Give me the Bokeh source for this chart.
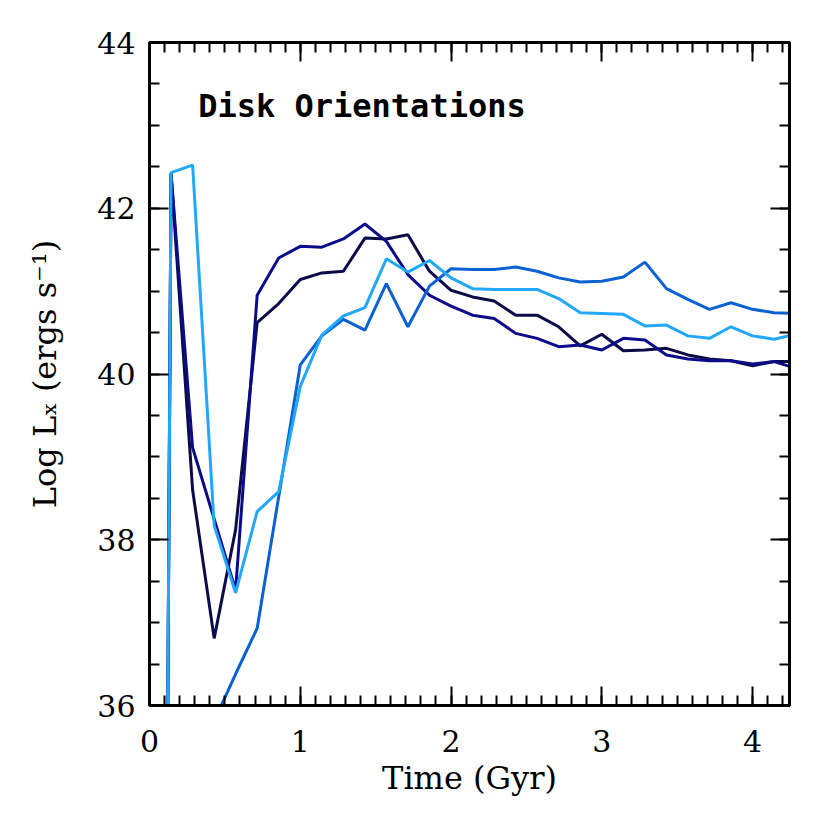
from bokeh.plotting import figure
from bokeh.models import Range1d, LinearAxis, SingleIntervalTicker, Label, CustomLabelingPolicy
from bokeh.embed import file_html
from bokeh.resources import INLINE

# Time in Gyr
time_gyr = [0.000, 0.143, 0.286, 0.429, 0.571, 0.714, 0.857, 1.000, 1.143, 1.286,
            1.429, 1.571, 1.714, 1.857, 2.000, 2.143, 2.286, 2.429, 2.571, 2.714,
            2.857, 3.000, 3.143, 3.286, 3.429, 3.571, 3.714, 3.857, 4.000, 4.143,
            4.286]

# Log L_X for each disk orientation
lx_darkest = [0.0, 42.42, 38.60, 36.81, 38.12, 40.62, 40.85, 41.14, 41.22, 41.24,
              41.64, 41.63, 41.68, 41.24, 41.01, 40.93, 40.88, 40.71, 40.71, 40.57,
              40.34, 40.48, 40.28, 40.29, 40.31, 40.23, 40.18, 40.16, 40.10, 40.15,
              40.15]
lx_navy = [0.0, 42.42, 39.11, 38.25, 37.39, 40.95, 41.40, 41.54, 41.53, 41.63,
           41.81, 41.60, 41.20, 40.95, 40.82, 40.71, 40.67, 40.49, 40.43, 40.33,
           40.35, 40.29, 40.43, 40.41, 40.23, 40.18, 40.16, 40.16, 40.12, 40.15,
           40.07]
lx_medium = [0.0, 0.0, 0.0, 35.81, 36.38, 36.93, 38.52, 40.11, 40.46, 40.66,
             40.53, 41.09, 40.57, 41.06, 41.27, 41.26, 41.26, 41.29, 41.24, 41.16,
             41.11, 41.12, 41.17, 41.35, 41.03, 40.90, 40.78, 40.86, 40.78, 40.74,
             40.73]
lx_light = [0.0, 42.43, 42.52, 38.17, 37.36, 38.34, 38.58, 39.85, 40.47, 40.70,
            40.80, 41.39, 41.23, 41.37, 41.16, 41.03, 41.02, 41.02, 41.02, 40.91,
            40.74, 40.73, 40.72, 40.58, 40.59, 40.46, 40.43, 40.57, 40.46, 40.42,
            40.48]

series = [lx_darkest, lx_navy, lx_medium, lx_light]
colors = ["#0b0b48", "#0c0c8a", "#0a62d2", "#22a8fa"]

title_text = "Disk Orientations"
x_label = "Time (Gyr)"
y_label = "Log L\u2093 (ergs s\u207b\u00b9)"

p = figure(frame_width=640, frame_height=663, output_backend="svg", toolbar_location=None,
           x_range=Range1d(0, 4.245), y_range=Range1d(36, 44),
           min_border_left=149, min_border_right=20, min_border_top=42,
           min_border_bottom=110, x_axis_label=x_label, y_axis_label=y_label)

p.xgrid.grid_line_color = None
p.ygrid.grid_line_color = None
p.outline_line_color = "black"
p.outline_line_width = 3
p.background_fill_color = "white"
p.border_fill_color = "white"

for ys, c in zip(series, colors):
    p.line(time_gyr, ys, line_color=c, line_width=3)

xt = SingleIntervalTicker(interval=1, num_minor_ticks=10)
yt = SingleIntervalTicker(interval=2, num_minor_ticks=4)

def style(ax):
    ax.axis_line_width = 3
    ax.axis_line_color = "black"
    ax.major_tick_in = 19
    ax.major_tick_out = 0
    ax.minor_tick_in = 10
    ax.minor_tick_out = 0
    ax.major_tick_line_width = 2
    ax.minor_tick_line_width = 2
    ax.major_tick_line_color = "black"
    ax.minor_tick_line_color = "black"
    ax.major_label_text_font = "DejaVu Serif"
    ax.major_label_text_font_size = "30px"
    ax.major_label_text_color = "black"
    ax.axis_label_text_font = "DejaVu Serif"
    ax.axis_label_text_font_size = "32px"
    ax.axis_label_text_font_style = "normal"
    ax.axis_label_text_color = "black"

p.xaxis.ticker = xt
p.yaxis.ticker = yt
for ax in p.xaxis + p.yaxis:
    style(ax)
p.xaxis.major_label_standoff = 24
p.xaxis.axis_label_standoff = 4
p.yaxis.major_label_standoff = 14
p.yaxis.axis_label_standoff = 30

NO_LABELS_JS = """
const all = [...indices]
for (const i of all) indices.unset(i)
return indices
"""

top = LinearAxis(ticker=xt)
style(top)
top.major_label_policy = CustomLabelingPolicy(code=NO_LABELS_JS)
top.major_label_text_font_size = "0px"
top.major_label_standoff = 0
p.add_layout(top, "above")
right = LinearAxis(ticker=yt)
style(right)
right.major_label_policy = CustomLabelingPolicy(code=NO_LABELS_JS)
right.major_label_text_font_size = "0px"
right.major_label_standoff = 0
p.add_layout(right, "right")

p.add_layout(Label(x=0.323, y=43.23, text=title_text, text_font="DejaVu Sans Mono",
                   text_font_size="32px", text_font_style="bold", text_color="black",
                   text_baseline="alphabetic", text_align="left"))

open("out.html", "w").write(file_html(p, INLINE))
